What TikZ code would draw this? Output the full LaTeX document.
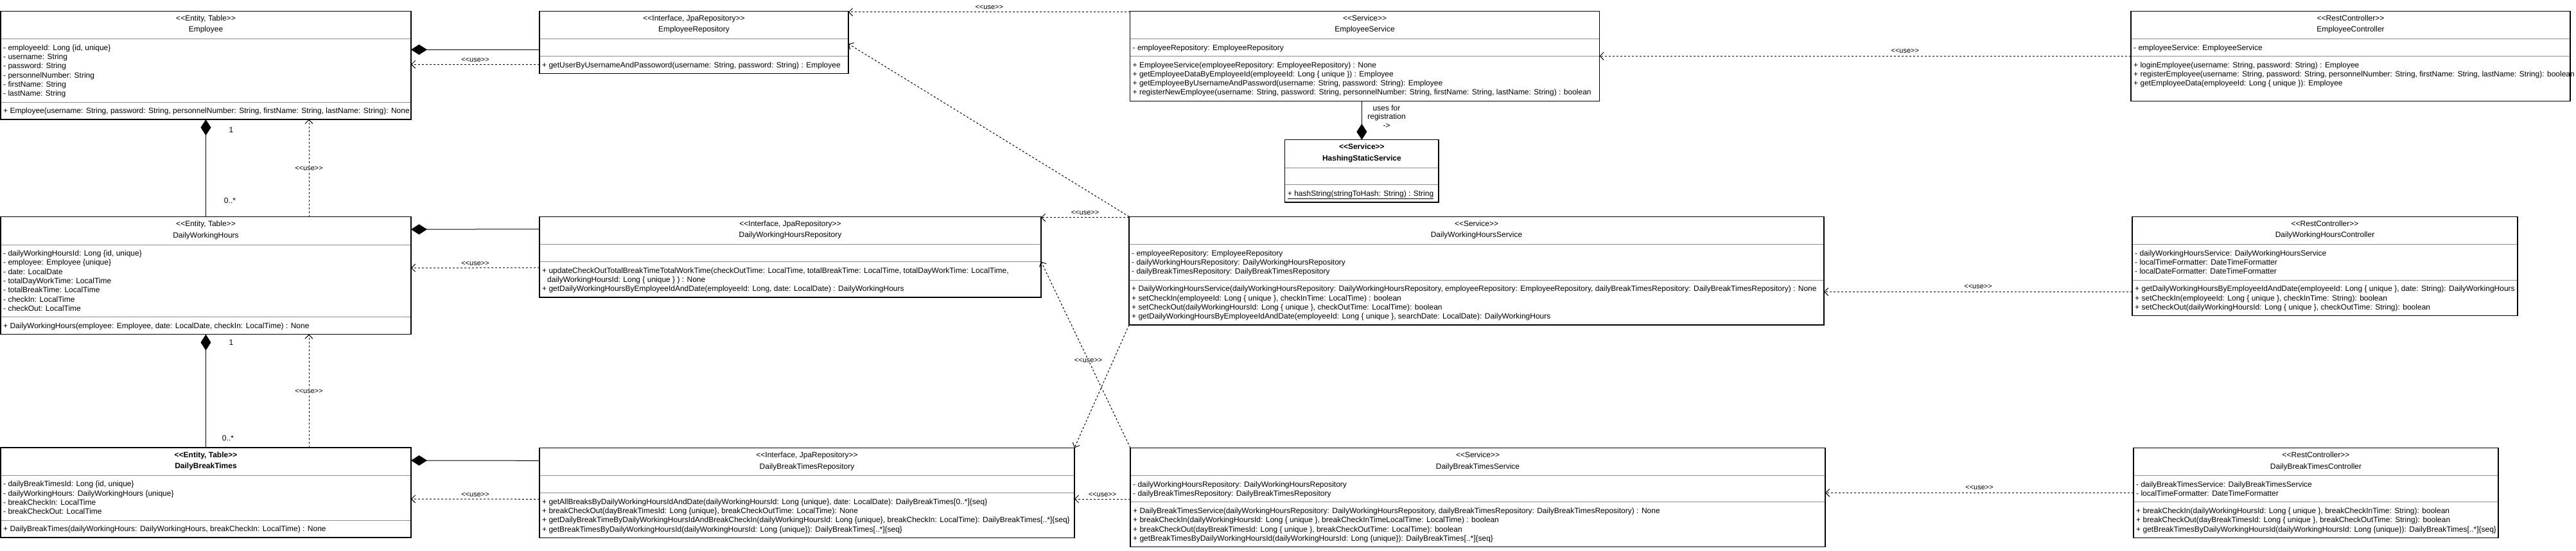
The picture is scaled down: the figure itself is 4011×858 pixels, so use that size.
\documentclass[tikz,border=0pt]{standalone}
\usepackage{fontspec}
\setmainfont{Liberation Sans}
\usetikzlibrary{arrows.meta,calc}

\newcommand\lsg{<{}<}
\newcommand\rsg{>{}>}
\newcommand\cls[1]{\begin{tabular}[t]{@{}l@{}}#1\end{tabular}}
\newcommand\hdr[1]{\begin{tabular}[t]{@{}c@{}}#1\end{tabular}}

\tikzset{
  classframe/.style={draw=black, line width=1.3pt},
  sepline/.style={draw=black!45, line width=1pt},
  compo/.style={draw=black, line width=1pt, -{Diamond[length=25pt,width=16pt]}},
  usedep/.style={draw=black, line width=1pt, dash pattern=on 3pt off 3pt, -{Straight Barb[length=6pt,width=12pt]}},
  uselbl/.style={font=\fontsize{11}{13}\selectfont, inner sep=1pt},
  mult/.style={font=\fontsize{12}{14}\selectfont, inner sep=0pt},
}

\newcommand\umlclass[9]{%
  \pgfmathsetmacro\ysa{#3+43.4}%
  \pgfmathsetmacro\ysb{\ysa+14.3*max(#6,1)+12.6}%
  \pgfmathsetmacro\ybot{\ysb+14.3*max(#8,1)+12.6}%
  \pgfmathsetmacro\xr{#2+#4}%
  \pgfmathsetmacro\xm{#2+#4/2}%
  \pgfmathsetmacro\hh{\ybot-#3}%
  \node[anchor=north west, inner sep=0pt, outer sep=0pt, minimum width=#4pt, minimum height=\hh pt] (#1) at (#2,#3) {};
  \draw[sepline] (#2,\ysa) -- (\xr,\ysa);
  \draw[sepline] (#2,\ysb) -- (\xr,\ysb);
  \node[anchor=base, inner sep=0pt] at (\xm,#3+15) {\fontsize{12}{17.7}\selectfont\hdr{#5}};
  \node[anchor=base west, inner sep=0pt] at (#2+4,\ysa+17.5) {\fontsize{12}{14.3}\selectfont\cls{#7}};
  \node[anchor=base west, inner sep=0pt] at (#2+4,\ysb+17.5) {\fontsize{12}{14.3}\selectfont\cls{#9}};
  \draw[classframe] (#1.north west) rectangle (#1.south east);
}

\begin{document}
\begin{tikzpicture}[x=1pt,y=-1pt]
\useasboundingbox (0,0) rectangle (4011,858);
\fill[white] (0,0) rectangle (4011,858);

% ---------- row 1 ----------
\umlclass{employee}{1}{17.3}{639}{\lsg Entity, Table\rsg\\Employee}{6}{%
- employeeId: Long \{id, unique\}\\
- username: String\\
- password: String\\
- personnelNumber: String\\
- firstName: String\\
- lastName: String}{1}{%
+ Employee(username: String, password: String, personnelNumber: String, firstName: String, lastName: String): None}

\umlclass{emprepo}{840}{17.3}{481}{\lsg Interface, JpaRepository\rsg\\EmployeeRepository}{0}{}{1}{%
+ getUserByUsernameAndPassoword(username: String, password: String) : Employee}

\umlclass{empservice}{1759.5}{17.3}{731}{\lsg Service\rsg\\EmployeeService}{1}{%
- employeeRepository: EmployeeRepository}{4}{%
+ EmployeeService(employeeRepository: EmployeeRepository) : None\\
+ getEmployeeDataByEmployeeId(employeeId: Long \{ unique \}) : Employee\\
+ getEmployeeByUsernameAndPassword(username: String, password: String): Employee\\
+ registerNewEmployee(username: String, password: String, personnelNumber: String, firstName: String, lastName: String) : boolean}

\umlclass{empctrl}{3318}{17.3}{684}{\lsg RestController\rsg\\EmployeeController}{1}{%
- employeeService: EmployeeService}{4}{%
+ loginEmployee(username: String, password: String) : Employee\\
+ registerEmployee(username: String, password: String, personnelNumber: String, firstName: String, lastName: String): boolean\\
+ getEmployeeData(employeeId: Long \{ unique \}): Employee}

\umlclass{hashing}{2000.7}{217.7}{239.3}{\bfseries\lsg Service\rsg\\\bfseries HashingStaticService}{0}{}{1}{%
\underline{+ hashString(stringToHash: String) : String}}

% ---------- row 2 ----------
\umlclass{dwh}{1}{337.7}{639}{\lsg Entity, Table\rsg\\DailyWorkingHours}{7}{%
- dailyWorkingHoursId: Long \{id, unique\}\\
- employee: Employee \{unique\}\\
- date: LocalDate\\
- totalDayWorkTime: LocalTime\\
- totalBreakTime: LocalTime\\
- checkIn: LocalTime\\
- checkOut: LocalTime}{1}{%
+ DailyWorkingHours(employee: Employee, date: LocalDate, checkIn: LocalTime) : None}

\umlclass{dwhrepo}{840}{337.3}{781}{\lsg Interface, JpaRepository\rsg\\DailyWorkingHoursRepository}{0}{}{3}{%
+ updateCheckOutTotalBreakTimeTotalWorkTime(checkOutTime: LocalTime, totalBreakTime: LocalTime, totalDayWorkTime: LocalTime,\\
\hspace{8pt}dailyWorkingHoursId: Long \{ unique \} ) : None\\
+ getDailyWorkingHoursByEmployeeIdAndDate(employeeId: Long, date: LocalDate) : DailyWorkingHours}

\umlclass{dwhservice}{1758}{337.3}{1082}{\lsg Service\rsg\\DailyWorkingHoursService}{3}{%
- employeeRepository: EmployeeRepository\\
- dailyWorkingHoursRepository: DailyWorkingHoursRepository\\
- dailyBreakTimesRepository: DailyBreakTimesRepository}{4}{%
+ DailyWorkingHoursService(dailyWorkingHoursRepository: DailyWorkingHoursRepository, employeeRepository: EmployeeRepository, dailyBreakTimesRepository: DailyBreakTimesRepository) : None\\
+ setCheckIn(employeeId: Long \{ unique \}, checkInTime: LocalTime) : boolean\\
+ setCheckOut(dailyWorkingHoursId: Long \{ unique \}, checkOutTime: LocalTime): boolean\\
+ getDailyWorkingHoursByEmployeeIdAndDate(employeeId: Long \{ unique \}, searchDate: LocalDate): DailyWorkingHours}

\umlclass{dwhctrl}{3320}{337.3}{600}{\lsg RestController\rsg\\DailyWorkingHoursController}{3}{%
- dailyWorkingHoursService: DailyWorkingHoursService\\
- localTimeFormatter: DateTimeFormatter\\
- localDateFormatter: DateTimeFormatter}{3}{%
+ getDailyWorkingHoursByEmployeeIdAndDate(employeeId: Long \{ unique \}, date: String): DailyWorkingHours\\
+ setCheckIn(employeeId: Long \{ unique \}, checkInTime: String): boolean\\
+ setCheckOut(dailyWorkingHoursId: Long \{ unique \}, checkOutTime: String): boolean}

% ---------- row 3 ----------
\umlclass{dbt}{1}{697}{639}{\bfseries\lsg Entity, Table\rsg\\\bfseries DailyBreakTimes}{4}{%
- dailyBreakTimesId: Long \{id, unique\}\\
- dailyWorkingHours: DailyWorkingHours \{unique\}\\
- breakCheckIn: LocalTime\\
- breakCheckOut: LocalTime}{1}{%
+ DailyBreakTimes(dailyWorkingHours: DailyWorkingHours, breakCheckIn: LocalTime) : None}

\umlclass{dbtrepo}{840}{697.3}{833}{\lsg Interface, JpaRepository\rsg\\DailyBreakTimesRepository}{0}{}{4}{%
+ getAllBreaksByDailyWorkingHoursIdAndDate(dailyWorkingHoursId: Long \{unique\}, date: LocalDate): DailyBreakTimes[0..*]\{seq\}\\
+ breakCheckOut(dayBreakTimesId: Long \{unique\}, breakCheckOutTime: LocalTime): None\\
+ getDailyBreakTimeByDailyWorkingHoursIdAndBreakCheckIn(dailyWorkingHoursId: Long \{unique\}, breakCheckIn: LocalTime): DailyBreakTimes[..*]\{seq\}\\
+ getBreakTimesByDailyWorkingHoursId(dailyWorkingHoursId: Long \{unique\}): DailyBreakTimes[..*]\{seq\}}

\umlclass{dbtservice}{1760}{697.3}{1082}{\lsg Service\rsg\\DailyBreakTimesService}{2}{%
- dailyWorkingHoursRepository: DailyWorkingHoursRepository\\
- dailyBreakTimesRepository: DailyBreakTimesRepository}{4}{%
+ DailyBreakTimesService(dailyWorkingHoursRepository: DailyWorkingHoursRepository, dailyBreakTimesRepository: DailyBreakTimesRepository) : None\\
+ breakCheckIn(dailyWorkingHoursId: Long \{ unique \}, breakCheckInTimeLocalTime: LocalTime) : boolean\\
+ breakCheckOut(dayBreakTimesId: Long \{ unique \}, breakCheckOutTime: LocalTime): boolean\\
+ getBreakTimesByDailyWorkingHoursId(dailyWorkingHoursId: Long \{unique\}): DailyBreakTimes[..*]\{seq\}}

\umlclass{dbtctrl}{3322}{697.3}{568}{\lsg RestController\rsg\\DailyBreakTimesController}{2}{%
- dailyBreakTimesService: DailyBreakTimesService\\
- localTimeFormatter: DateTimeFormatter}{3}{%
+ breakCheckIn(dailyWorkingHoursId: Long \{ unique \}, breakCheckInTime: String): boolean\\
+ breakCheckOut(dayBreakTimesId: Long \{ unique \}, breakCheckOutTime: String): boolean\\
+ getBreakTimesByDailyWorkingHoursId(dailyWorkingHoursId: Long \{unique\}): DailyBreakTimes[..*]\{seq\}}

% ---------- connectors ----------
% Employee <-> EmployeeRepository
\draw[compo] ([yshift=-60pt]emprepo.north west) -- ([yshift=-60pt]employee.north east);
\draw[usedep] ([yshift=-83pt]emprepo.north west) -- node[uselbl, above=2pt]{\lsg use\rsg} ([yshift=-83pt]employee.north east);
% EmployeeService -> EmployeeRepository
\draw[usedep] ([yshift=-1.5pt]empservice.north west) -- node[uselbl, above=3pt]{\lsg use\rsg} ([yshift=-1.5pt]emprepo.north east);
% EmployeeController -> EmployeeService
\draw[usedep] ([yshift=-70pt]empctrl.north west) -- node[uselbl, above=3pt, pos=0.425]{\lsg use\rsg} ([yshift=-70pt]empservice.north east);
% EmployeeService - HashingStaticService
\draw[compo] (empservice.south -| hashing.north) -- (hashing.north);
\node[align=center, font=\fontsize{12}{13.7}\selectfont, inner sep=0pt] (reglbl) at (2159,181.5) {uses for\\registration\\->};

% DailyWorkingHours - Employee
\draw[compo] (dwh.north) -- (employee.south);
\node[mult] (m1) at (360,202) {1};
\node[mult] (m2) at (358,312) {0..*};
\draw[usedep] ([xshift=480pt]dwh.north west) -- node[uselbl, fill=white]{\lsg use\rsg} ([xshift=480pt]employee.south west);

% DailyWorkingHoursRepository - DailyWorkingHours
\draw[compo] ([yshift=-19.5pt]dwhrepo.north west) -- ([yshift=-19.5pt]dwh.north east);
\draw[usedep] ([yshift=-79.5pt]dwhrepo.north west) -- node[uselbl, above=2pt]{\lsg use\rsg} ([yshift=-79.5pt]dwh.north east);

% DailyWorkingHoursService -> repositories
\draw[usedep] ([yshift=-1.5pt]dwhservice.north west) -- node[uselbl, above=3pt]{\lsg use\rsg} ([yshift=-1.5pt]dwhrepo.north east);
\draw[usedep] (dwhservice.north west) -- ([yshift=-51pt]emprepo.north east);
\draw[usedep] (dwhservice.south west) -- (dbtrepo.north east);

% DailyWorkingHoursController -> DailyWorkingHoursService
\draw[usedep] ([yshift=-117pt]dwhctrl.north west) -- node[uselbl, above=3pt]{\lsg use\rsg} ([yshift=-117pt]dwhservice.north east);

% DailyBreakTimes - DailyWorkingHours
\draw[compo] (dbt.north) -- (dwh.south);
\node[mult] (m3) at (360,533) {1};
\node[mult] (m4) at (355,682) {0..*};
\draw[usedep] ([xshift=480pt]dbt.north west) -- node[uselbl, fill=white]{\lsg use\rsg} ([xshift=480pt]dwh.south west);

% DailyBreakTimesRepository - DailyBreakTimes
\draw[compo] ([yshift=-20pt]dbtrepo.north west) -- ([yshift=-20pt]dbt.north east);
\draw[usedep] ([yshift=-80pt]dbtrepo.north west) -- node[uselbl, above=2pt]{\lsg use\rsg} ([yshift=-80pt]dbt.north east);

% DailyBreakTimesService -> repositories
\draw[usedep] (dbtservice.north west) -- node[uselbl, fill=white, pos=0.47]{\lsg use\rsg} ([yshift=-70pt]dwhrepo.north east);
\draw[usedep] ([yshift=-79.7pt]dbtservice.north west) -- node[uselbl, above=2pt]{\lsg use\rsg} ([yshift=-79.7pt]dbtrepo.north east);

% DailyBreakTimesController -> DailyBreakTimesService
\draw[usedep] ([yshift=-70pt]dbtctrl.north west) -- node[uselbl, above=3pt]{\lsg use\rsg} ([yshift=-70pt]dbtservice.north east);
\end{tikzpicture}
\end{document}
